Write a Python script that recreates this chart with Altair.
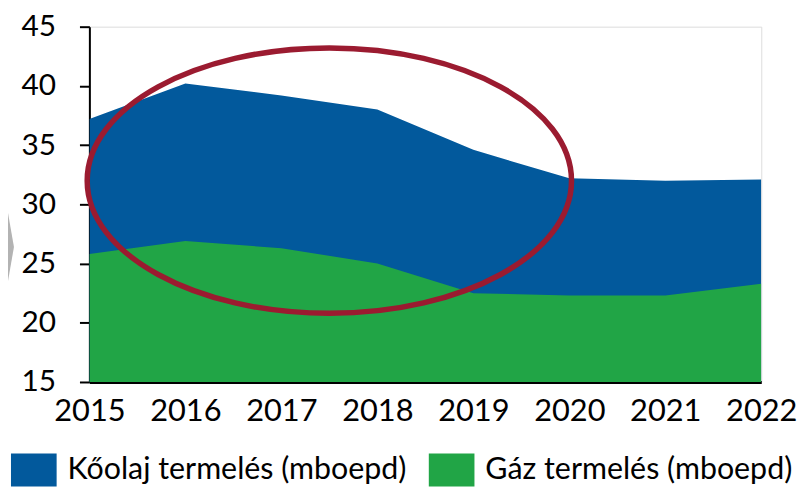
import altair as alt
import pandas as pd

years = [2015, 2016, 2017, 2018, 2019, 2020, 2021, 2022]
koolaj = [37.2, 40.2, 39.2, 38.0, 34.6, 32.2, 32.0, 32.1]
gaz = [25.8, 26.9, 26.3, 25.0, 22.5, 22.3, 22.3, 23.3]
series = ["Kőolaj termelés (mboepd)", "Gáz termelés (mboepd)"]
colors = ["#02599C", "#21A546"]
y_ticks = [15, 20, 25, 30, 35, 40, 45]

# highlight ellipse annotation (centre in data units)
ell_x = [2017.5]
ell_y = [32.0]

df = pd.DataFrame({
    "year": years * 2,
    "value": koolaj + gaz,
    "series": [series[0]] * len(years) + [series[1]] * len(years),
})
ell = pd.DataFrame({"x": ell_x, "y": ell_y})

FONT = "Lato"

xscale = alt.Scale(domain=[2015, 2022], nice=False, zero=False)
yscale = alt.Scale(domain=[15, 45], nice=False, zero=False)

x_enc = alt.X("year:Q", scale=xscale, axis=alt.Axis(
    values=years, format="d", title=None, ticks=False, grid=False,
    labelFlush=False, labelOverlap=False, domainWidth=3, domainColor="black",
    labelFontSize=31, labelPadding=15, labelColor="black", labelFont=FONT))
y_enc = alt.Y("value:Q", scale=yscale, axis=alt.Axis(
    values=y_ticks, title=None, grid=False, labelFlush=False, labelOverlap=False,
    domainWidth=2, domainColor="black", tickSize=10, tickWidth=2, tickColor="black",
    labelFontSize=30, labelPadding=24, labelColor="black", labelFont=FONT))

color_enc = alt.Color("series:N", scale=alt.Scale(domain=series, range=colors),
    legend=alt.Legend(
        title=None, orient="none", legendX=-79, legendY=423.5, direction="horizontal",
        symbolType="M-1,-0.72L1,-0.72L1,0.72L-1,0.72Z", symbolSize=2116,
        symbolStrokeWidth=0, symbolOpacity=1, labelFontSize=30.6, labelFont=FONT,
        labelColor="black", labelOffset=11, columnPadding=22, labelLimit=0, padding=0))

base = alt.Chart(df)
blue = base.transform_filter(alt.datum.series == series[0]).mark_area(
    opacity=1, clip=True).encode(x=x_enc, y=y_enc, color=color_enc)
green = base.transform_filter(alt.datum.series == series[1]).mark_area(
    opacity=1, clip=True).encode(x=x_enc, y=y_enc, color=color_enc)

ellipse = alt.Chart(ell).mark_point(
    shape="M-1,0A1,0.548,0,1,1,1,0A1,0.548,0,1,1,-1,0Z",
    size=238144, filled=False, stroke="#9B1B30", strokeWidth=5.5, opacity=1
).encode(x=alt.X("x:Q", scale=xscale), y=alt.Y("y:Q", scale=yscale))

arrow = alt.Chart(ell).mark_point(
    shape="M-0.175,-1L0,0L-0.175,1L-3,1L-3,-1Z",
    size=6400, filled=True, fill="#B3B3B3", strokeWidth=0, opacity=1
).encode(x=alt.value(-76), y=alt.value(222))

chart = alt.layer(blue, green, ellipse, arrow).properties(
    width=677, height=358,
    autosize=alt.AutoSizeParams(type="none"),
    padding={"left": 82, "top": 17, "right": 37, "bottom": 106},
).configure_view(stroke=None).configure(font=FONT)

chart.save("out.html", embed_options={"renderer": "svg", "actions": False})
